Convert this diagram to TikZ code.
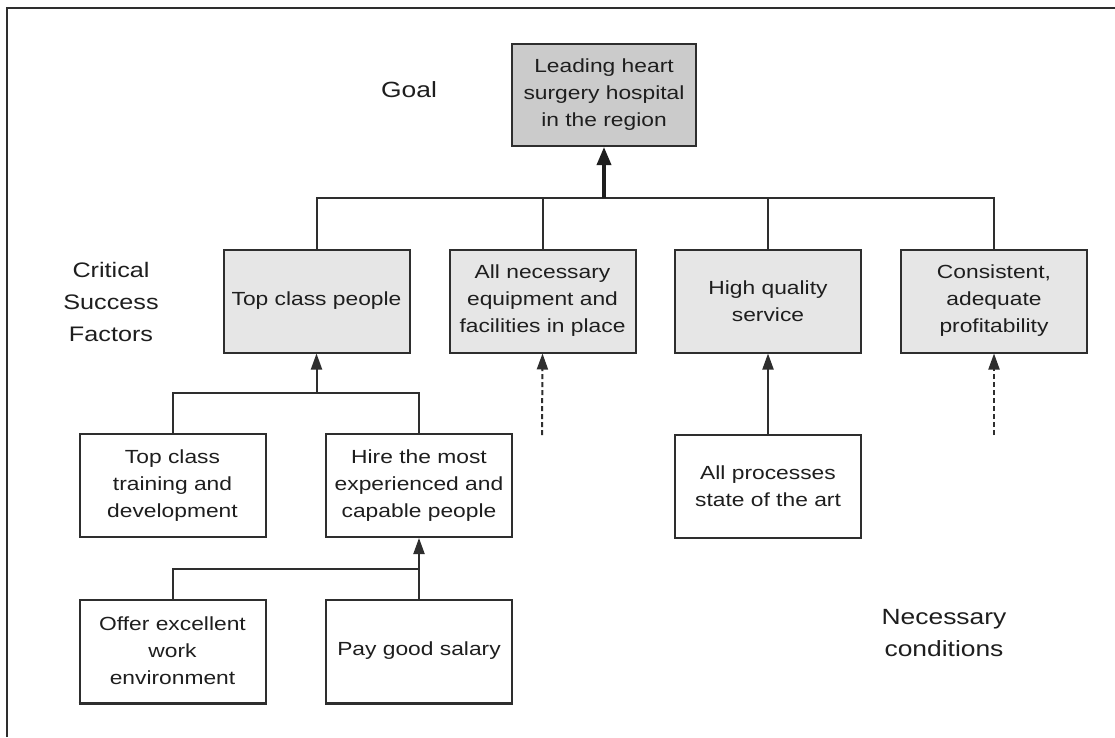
\documentclass[tikz,border=0pt]{standalone}
\usepackage{fontspec}
\setmainfont{Liberation Sans}[FakeStretch=1.2]
\usetikzlibrary{arrows.meta}
\definecolor{edge}{HTML}{2E2E2E}
\definecolor{ink}{HTML}{1E1E1E}
\definecolor{goalgray}{HTML}{CBCBCB}
\definecolor{csfgray}{HTML}{E6E6E6}
\begin{document}
\begin{tikzpicture}[x=1pt,y=-1pt,
  box/.style={draw=edge, line width=2pt, fill=white, minimum width=186pt,
    minimum height=103pt, align=center, inner sep=0pt, text=ink,
    font=\fontsize{19}{27}\selectfont},
  goalbox/.style={box, fill=goalgray, minimum width=184pt, minimum height=102pt},
  csfbox/.style={box, fill=csfgray},
  link/.style={draw=edge, line width=2pt},
  uparrow/.style={link, -{Triangle[length=16pt,width=11pt]}},
  goalarrow/.style={draw=ink, line width=3.5pt, -{Triangle[length=18pt,width=14pt]}},
  hintarrow/.style={uparrow, dash pattern=on 5pt off 3pt},
  sidetext/.style={text=ink, align=center, font=\fontsize{22}{32}\selectfont}
]
\useasboundingbox (0,0) rectangle (1115,737);
\fill[white] (0,0) rectangle (1115,737);
% frame
\draw[link] (7,737) -- (7,8) -- (1115,8);

% goal
\node[goalbox] (goal) at (604,95) {Leading heart\\surgery hospital\\in the region};

% critical success factors
\node[csfbox] (csf1) at (316.5,301) {Top class people};
\node[csfbox] (csf2) at (542.5,301) {All necessary\\equipment and\\facilities in place};
\node[csfbox] (csf3) at (768,301) {High quality\\service};
\node[csfbox] (csf4) at (994,301) {Consistent,\\adequate\\profitability};

% necessary conditions
\node[box] (train) at (172.5,485.5) {Top class\\training and\\development};
\node[box] (hire) at (419,485.5) {Hire the most\\experienced and\\capable people};
\node[box] (proc) at (768,486) {All processes\\state of the art};
\node[box] (offer) at (172.5,651) {Offer excellent\\work\\environment};
\node[box] (pay) at (419,651) {Pay good salary};
\draw[edge, line width=3.5pt] (offer.south west) -- (offer.south east);
\draw[edge, line width=3.5pt] (pay.south west) -- (pay.south east);

% side labels
\node[sidetext] (goallbl) at (409,89.5) {Goal};
\node[sidetext, font=\fontsize{21}{32}\selectfont] (csflbl) at (111,302) {Critical\\Success\\Factors};
\node[sidetext] (nclbl) at (944,633) {Necessary\\conditions};

% connectors
\coordinate (gbus) at (604,198);
\draw[link] (csf1.north) |- (gbus) -| (csf4.north);
\draw[link] (csf2.north) -- (csf2.north |- gbus);
\draw[link] (csf3.north) -- (csf3.north |- gbus);
\draw[goalarrow] (gbus) -- (goal.south);

\coordinate (pbus) at (316.5,393);
\draw[link] (train.north) |- (pbus) -| (hire.north);
\draw[uparrow] (pbus) -- (csf1.south);

\coordinate (hbus) at (419,569);
\draw[link] (offer.north) |- (hbus);
\draw[link] (pay.north) -- (hbus);
\draw[uparrow] (hbus) -- (hire.south);

\draw[uparrow] (proc.north) -- (csf3.south);

\coordinate (d2) at (542,435);
\coordinate (d4) at (994,435);
\draw[hintarrow] (d2) -- (csf2.south);
\draw[hintarrow] (d4) -- (csf4.south);
\end{tikzpicture}
\end{document}
